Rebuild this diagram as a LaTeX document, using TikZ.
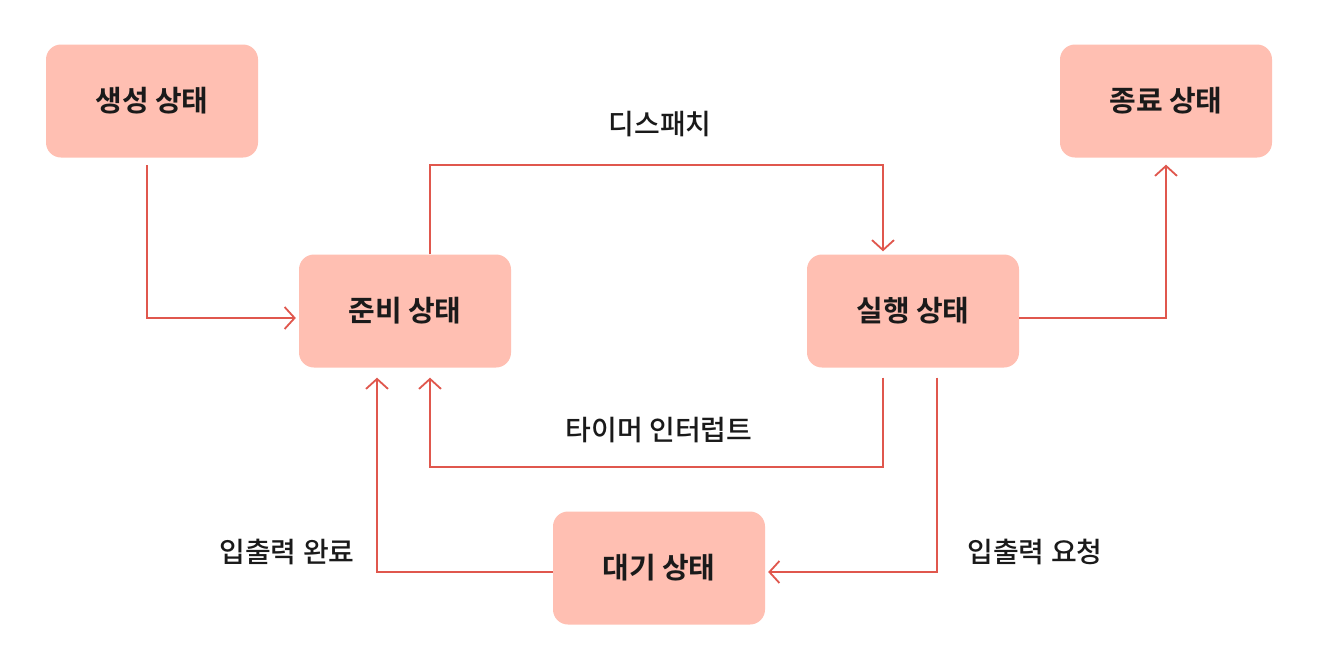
\documentclass[tikz,border=0pt]{standalone}
\usepackage{fontspec}
\setmainfont{Noto Sans CJK KR}
\newfontfamily\boldkr{Noto Sans CJK KR}[UprightFont=* Bold]
\newfontfamily\medkr{Noto Sans CJK KR}[UprightFont=* Medium]
\usetikzlibrary{arrows.meta}
\definecolor{boxfill}{HTML}{FFBFB2}
\definecolor{linec}{HTML}{E0574D}
\definecolor{txt}{HTML}{1A1A1A}
\tikzset{
  state/.style={fill=boxfill, draw=none, rounded corners=15pt, minimum width=212pt, minimum height=113pt, inner sep=0pt, font=\boldkr\fontsize{29}{34}\selectfont, text=txt},
  conn/.style={draw=linec, line width=1.8pt, -{Straight Barb[length=10pt,width=22pt,line width=1.8pt]}},
  lbl/.style={font=\medkr\fontsize{28}{32}\selectfont, text=txt, inner sep=0pt}
}
\begin{document}
\begin{tikzpicture}[x=1pt,y=-1pt]
\useasboundingbox[fill=white] (0,0) rectangle (1322,659);
\node[state] (create) at (152,101) {생성 상태};
\node[state] (term) at (1166,101) {종료 상태};
\node[state] (ready) at (405,311) {준비 상태};
\node[state] (run) at (913,311) {실행 상태};
\node[state] (wait) at (659,568) {대기 상태};

\coordinate (c1) at (147,165);
\draw[conn] (c1) |- ([xshift=-3pt,yshift=-7pt]ready.west);
\draw[conn] (ready.north -| 430,0) |- (883,165) -- ([yshift=3pt]run.north -| 883,0);
\draw[conn] ([yshift=-7pt]run.east) -| ([yshift=-7pt]term.south -| 1166,0);
\draw[conn] ([yshift=-10pt]run.south -| 883,0) |- (430,467) -- ([yshift=-10pt]ready.south -| 430,0);
\draw[conn] ([yshift=-10pt]run.south -| 937,0) |- ([xshift=3pt,yshift=-4pt]wait.east);
\draw[conn] ([yshift=-4pt]wait.west) -| ([yshift=-10pt]ready.south -| 377,0);

\node[lbl] (l1) at (660,124) {디스패치};
\node[lbl] (l2) at (659,430) {타이머 인터럽트};
\node[lbl] (l3) at (1035,552) {입출력 요청};
\node[lbl] (l4) at (287,552) {입출력 완료};
\end{tikzpicture}
\end{document}
